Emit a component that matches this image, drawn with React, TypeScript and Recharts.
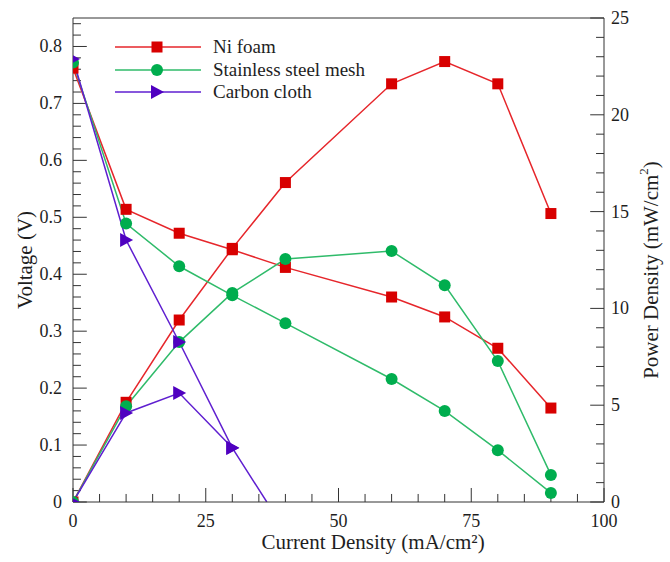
import React from 'react'
import { LineChart, Line, XAxis, YAxis, Legend, ReferenceLine } from 'recharts'

// current density (mA/cm2)
const current = [0, 10, 20, 30, 40, 60, 70, 80, 90]

const niVoltage = [0.762, 0.514, 0.472, 0.443, 0.412, 0.36, 0.325, 0.27, 0.165]
const niPower = [0, 5.15, 9.4, 13.1, 16.5, 21.6, 22.75, 21.6, 14.9]

const ssVoltage = [0.772, 0.489, 0.414, 0.363, 0.314, 0.216, 0.16, 0.091, 0.016]
const ssPower = [0, 4.95, 8.26, 10.8, 12.55, 12.96, 11.2, 7.28, 1.4]

const ccVoltageCurrent = [0, 10, 20, 30, 36.5]
const ccVoltage = [0.778, 0.46, 0.281, 0.095, 0]
const ccPowerCurrent = [0, 10, 20, 30]
const ccPower = [0, 4.6, 5.63, 2.8]

const voltageMajor = [0, 0.1, 0.2, 0.3, 0.4, 0.5, 0.6, 0.7, 0.8]
const voltageLabels = ['0', '0.1', '0.2', '0.3', '0.4', '0.5', '0.6', '0.7', '0.8']
const powerMajor = [0, 5, 10, 15, 20, 25]
const powerLabels = ['0', '5', '10', '15', '20', '25']
const currentMajor = [0, 25, 50, 75, 100]
const currentLabels = ['0', '25', '50', '75', '100']

const voltageTicks = Array.from({ length: 43 }, (_, i) => +(i * 0.02).toFixed(2))
const powerTicks = Array.from({ length: 26 }, (_, i) => i)
const currentTicks = Array.from({ length: 21 }, (_, i) => i * 5)

const toPoints = (xs: number[], ys: number[]) => xs.map((x, i) => ({ x, y: ys[i] }))

const FONT = 'Liberation Serif'
const AXIS = '#333'
const TEXT = '#1e1e1e'

const RED = { line: '#e6262b', mark: '#d80000' }
const GREEN = { line: '#2fbb6a', mark: '#00ad4e' }
const PURPLE = { line: '#5f1fd0', mark: '#4f00c0' }

// inward tick mark lengths, in axis units (plot is 531px x 484px)
const X_MAJOR = 2.6
const X_MINOR = 1.5
const V_MAJOR = 0.0246
const V_MINOR = 0.0141

type Shape = 'square' | 'circle' | 'triangle'

function Marker({ shape, cx, cy, fill }: { shape: Shape; cx: number; cy: number; fill: string }) {
  if (shape === 'square') return <rect x={cx - 5.5} y={cy - 5.5} width={11} height={11} fill={fill} />
  if (shape === 'circle') return <circle cx={cx} cy={cy} r={6} fill={fill} />
  return <polygon points={`${cx - 6},${cy - 7} ${cx + 7},${cy} ${cx - 6},${cy + 7}`} fill={fill} />
}

const makeDot = (shape: Shape, fill: string, skip: number[] = []) => (props: any) => {
  const { cx, cy, index } = props
  if (skip.includes(index) || cx == null || cy == null) return <g key={`d-${index}`} />
  return (
    <g key={`d-${index}`}>
      <Marker shape={shape} cx={cx} cy={cy} fill={fill} />
    </g>
  )
}

const isMajor = (v: number, majors: number[]) => majors.findIndex((m) => Math.abs(m - v) < 1e-6)

const LEFT_GAP = 11
const RIGHT_GAP = 7
const BOTTOM_GAP = 10

function LeftTick(props: any) {
  const { x, y, payload } = props
  const idx = isMajor(payload.value, voltageMajor)
  if (idx < 0) return <g />
  return (
    <text x={x} y={y} textAnchor="end" dominantBaseline="central" style={{ fontFamily: FONT }} fontSize={18} fill={TEXT}>
      {voltageLabels[idx]}
    </text>
  )
}

function RightTick(props: any) {
  const { x, y, payload } = props
  const idx = isMajor(payload.value, powerMajor)
  if (idx < 0) return <g />
  return (
    <text x={x} y={y} textAnchor="start" dominantBaseline="central" style={{ fontFamily: FONT }} fontSize={18} fill={TEXT}>
      {powerLabels[idx]}
    </text>
  )
}

function BottomTick(props: any) {
  const { x, y, payload } = props
  const idx = isMajor(payload.value, currentMajor)
  if (idx < 0) return <g />
  return (
    <text x={x} y={y + 15} textAnchor="middle" style={{ fontFamily: FONT }} fontSize={18} fill={TEXT}>
      {currentLabels[idx]}
    </text>
  )
}

const legendOrder = ['Ni foam', 'Stainless steel mesh', 'Carbon cloth']
const legendShapes: Record<string, { shape: Shape; color: { line: string; mark: string } }> = {
  'Ni foam': { shape: 'square', color: RED },
  'Stainless steel mesh': { shape: 'circle', color: GREEN },
  'Carbon cloth': { shape: 'triangle', color: PURPLE },
}

function LegendContent(props: any) {
  const items = (props.payload || [])
    .filter((p: any) => legendShapes[p.value])
    .sort((a: any, b: any) => legendOrder.indexOf(a.value) - legendOrder.indexOf(b.value))
  return (
    <div style={{ fontFamily: FONT, fontSize: 19, color: TEXT }}>
      {items.map((p: any) => {
        const s = legendShapes[p.value]
        return (
          <div key={p.value} style={{ display: 'flex', alignItems: 'center', height: 22.5 }}>
            <svg width={86} height={22} style={{ display: 'block' }}>
              <line x1={0} x2={86} y1={11} y2={11} stroke={s.color.line} strokeWidth={1.5} />
              <Marker shape={s.shape} cx={42} cy={11} fill={s.color.mark} />
            </svg>
            <span style={{ marginLeft: 12, lineHeight: '22px' }}>{p.value}</span>
          </div>
        )
      })}
    </div>
  )
}

export default function App() {
  return (
    <div style={{ position: 'absolute', left: 0, top: 0, fontFamily: FONT }}>
      <LineChart width={670} height={562} margin={{ top: 18, right: 0, bottom: 0, left: 0 }}>
        <XAxis
          dataKey="x"
          type="number"
          domain={[0, 100]}
          allowDataOverflow
          ticks={currentTicks}
          interval={0}
          height={60}
          stroke={AXIS}
          tickSize={0}
          tickMargin={BOTTOM_GAP}
          tickLine={false}
          tick={<BottomTick />}
          label={{
            content: () => (
              <text x={373} y={549} textAnchor="middle" style={{ fontFamily: FONT }} fontSize={21} fill={TEXT}>
                Current Density (mA/cm²)
              </text>
            ),
          }}
        />
        <YAxis
          yAxisId="v"
          type="number"
          domain={[0, 0.85]}
          allowDataOverflow
          ticks={voltageTicks}
          interval={0}
          width={73}
          stroke={AXIS}
          tickSize={0}
          tickMargin={LEFT_GAP}
          tickLine={false}
          tick={<LeftTick />}
          label={{
            content: () => (
              <text
                x={25}
                y={260}
                transform="rotate(-90 25 260)"
                textAnchor="middle"
                dominantBaseline="central"
                style={{ fontFamily: FONT }}
                fontSize={21}
                fill={TEXT}
              >
                Voltage (V)
              </text>
            ),
          }}
        />
        <YAxis
          yAxisId="p"
          orientation="right"
          type="number"
          domain={[0, 25]}
          allowDataOverflow
          ticks={powerTicks}
          interval={0}
          width={66}
          stroke={AXIS}
          tickSize={0}
          tickMargin={RIGHT_GAP}
          tickLine={false}
          tick={<RightTick />}
          label={{
            content: () => (
              <text
                x={651}
                y={270}
                transform="rotate(-90 651 270)"
                textAnchor="middle"
                dominantBaseline="central"
                style={{ fontFamily: FONT }}
                fontSize={21}
                fill={TEXT}
              >
                Power Density (mW/cm
                <tspan dy={-8} fontSize={13}>2</tspan>
                <tspan dy={8}>)</tspan>
              </text>
            ),
          }}
        />
        <ReferenceLine yAxisId="v" y={0.85} stroke={AXIS} />

        {/* inward tick marks */}
        {voltageTicks.map((v) => (
          <ReferenceLine
            key={`lt-${v}`}
            yAxisId="v"
            segment={[{ x: 0, y: v }, { x: isMajor(v, voltageMajor) >= 0 ? X_MAJOR : X_MINOR, y: v }]}
            stroke={AXIS}
            ifOverflow="visible"
          />
        ))}
        {powerTicks.map((p) => (
          <ReferenceLine
            key={`rt-${p}`}
            yAxisId="p"
            segment={[{ x: 100 - (isMajor(p, powerMajor) >= 0 ? X_MAJOR : X_MINOR), y: p }, { x: 100, y: p }]}
            stroke={AXIS}
            ifOverflow="visible"
          />
        ))}
        {currentTicks.map((c) => (
          <ReferenceLine
            key={`bt-${c}`}
            yAxisId="v"
            segment={[{ x: c, y: 0 }, { x: c, y: isMajor(c, currentMajor) >= 0 ? V_MAJOR : V_MINOR }]}
            stroke={AXIS}
            ifOverflow="visible"
          />
        ))}

        <Legend
          layout="vertical"
          align="center"
          verticalAlign="middle"
          content={<LegendContent />}
          wrapperStyle={{ left: 115, top: 36, width: 'auto', height: 'auto' }}
        />

        <Line
          yAxisId="v"
          data={toPoints(current, niVoltage)}
          dataKey="y"
          name="Ni foam"
          stroke={RED.line}
          strokeWidth={1.5}
          dot={makeDot('square', RED.mark)}
          isAnimationActive={false}
        />
        <Line
          yAxisId="p"
          data={toPoints(current, niPower)}
          dataKey="y"
          name="Ni foam power"
          legendType="none"
          stroke={RED.line}
          strokeWidth={1.5}
          dot={makeDot('square', RED.mark)}
          isAnimationActive={false}
        />
        <Line
          yAxisId="v"
          data={toPoints(current, ssVoltage)}
          dataKey="y"
          name="Stainless steel mesh"
          stroke={GREEN.line}
          strokeWidth={1.5}
          dot={makeDot('circle', GREEN.mark)}
          isAnimationActive={false}
        />
        <Line
          yAxisId="p"
          data={toPoints(current, ssPower)}
          dataKey="y"
          name="Stainless steel mesh power"
          legendType="none"
          stroke={GREEN.line}
          strokeWidth={1.5}
          dot={makeDot('circle', GREEN.mark)}
          isAnimationActive={false}
        />
        <Line
          yAxisId="v"
          data={toPoints(ccVoltageCurrent, ccVoltage)}
          dataKey="y"
          name="Carbon cloth"
          stroke={PURPLE.line}
          strokeWidth={1.5}
          dot={makeDot('triangle', PURPLE.mark, [4])}
          isAnimationActive={false}
        />
        <Line
          yAxisId="p"
          data={toPoints(ccPowerCurrent, ccPower)}
          dataKey="y"
          name="Carbon cloth power"
          legendType="none"
          stroke={PURPLE.line}
          strokeWidth={1.5}
          dot={makeDot('triangle', PURPLE.mark)}
          isAnimationActive={false}
        />
      </LineChart>
    </div>
  )
}
